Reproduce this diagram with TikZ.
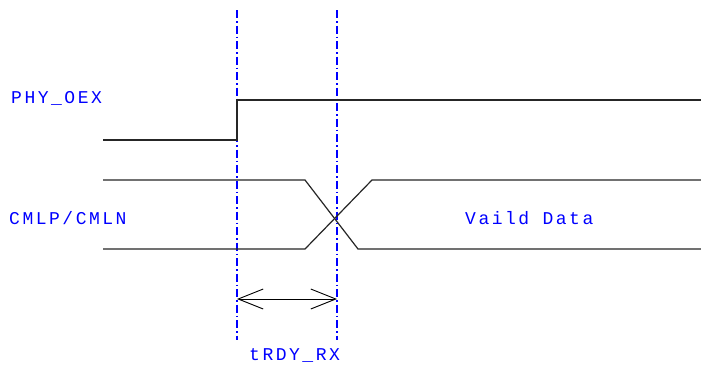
\documentclass[tikz,border=0pt]{standalone}
\usepackage{fontspec}
\newfontfamily\sigfont[LetterSpace=14]{Liberation Mono}
\usetikzlibrary{arrows.meta}
\tikzset{
  sig/.style={draw=black!85, line width=1.2pt},
  mark line/.style={draw=blue, line width=1.3pt, dash pattern=on 8pt off 3pt on 1.5pt off 3pt},
  lbl/.style={text=blue, font=\sigfont\fontsize{18}{18}\selectfont, inner sep=0pt, anchor=west},
  dim/.style={draw=black, line width=0.9pt, {Straight Barb[length=25pt,width=20pt]}-{Straight Barb[length=25pt,width=20pt]}}
}
\begin{document}
\begin{tikzpicture}[x=1pt,y=-1pt]
\useasboundingbox[fill=white] (0,0) rectangle (701,367);
% marker lines
\coordinate (m1t) at (237,10);
\coordinate (m1b) at (237,340);
\coordinate (m2t) at (337,10);
\coordinate (m2b) at (337,340);
\draw[mark line] (m1t) -- (m1b);
\draw[mark line] (m2t) -- (m2b);
% labels
\node[lbl] (phy) at (11,98) {PHY\_OEX};
\node[lbl] (cml) at (9,218) {CMLP/CMLN};
\node[lbl] (vd) at (465,218) {Vaild Data};
\node[lbl] (trdy) at (249,355) {tRDY\_RX};
% PHY_OEX waveform
\coordinate (p0) at (103,140);
\coordinate (p1) at (237,140);
\coordinate (p2) at (237,100);
\coordinate (p3) at (701,100);
\draw[sig] (p0) -- (p1) -- (p2) -- (p3);
% CMLP/CMLN waveform
\coordinate (a0) at (103,180);
\coordinate (a1) at (305,180);
\coordinate (a2) at (358,249);
\coordinate (a3) at (701,249);
\coordinate (b0) at (103,249);
\coordinate (b1) at (305,249);
\coordinate (b2) at (372,180);
\coordinate (b3) at (701,180);
\draw[sig] (a0) -- (a1) -- (a2) -- (a3);
\draw[sig] (b0) -- (b1) -- (b2) -- (b3);
% dimension arrow
\coordinate (d1) at (237,299);
\coordinate (d2) at (337,299);
\draw[dim] (d1) -- (d2);
\end{tikzpicture}
\end{document}
